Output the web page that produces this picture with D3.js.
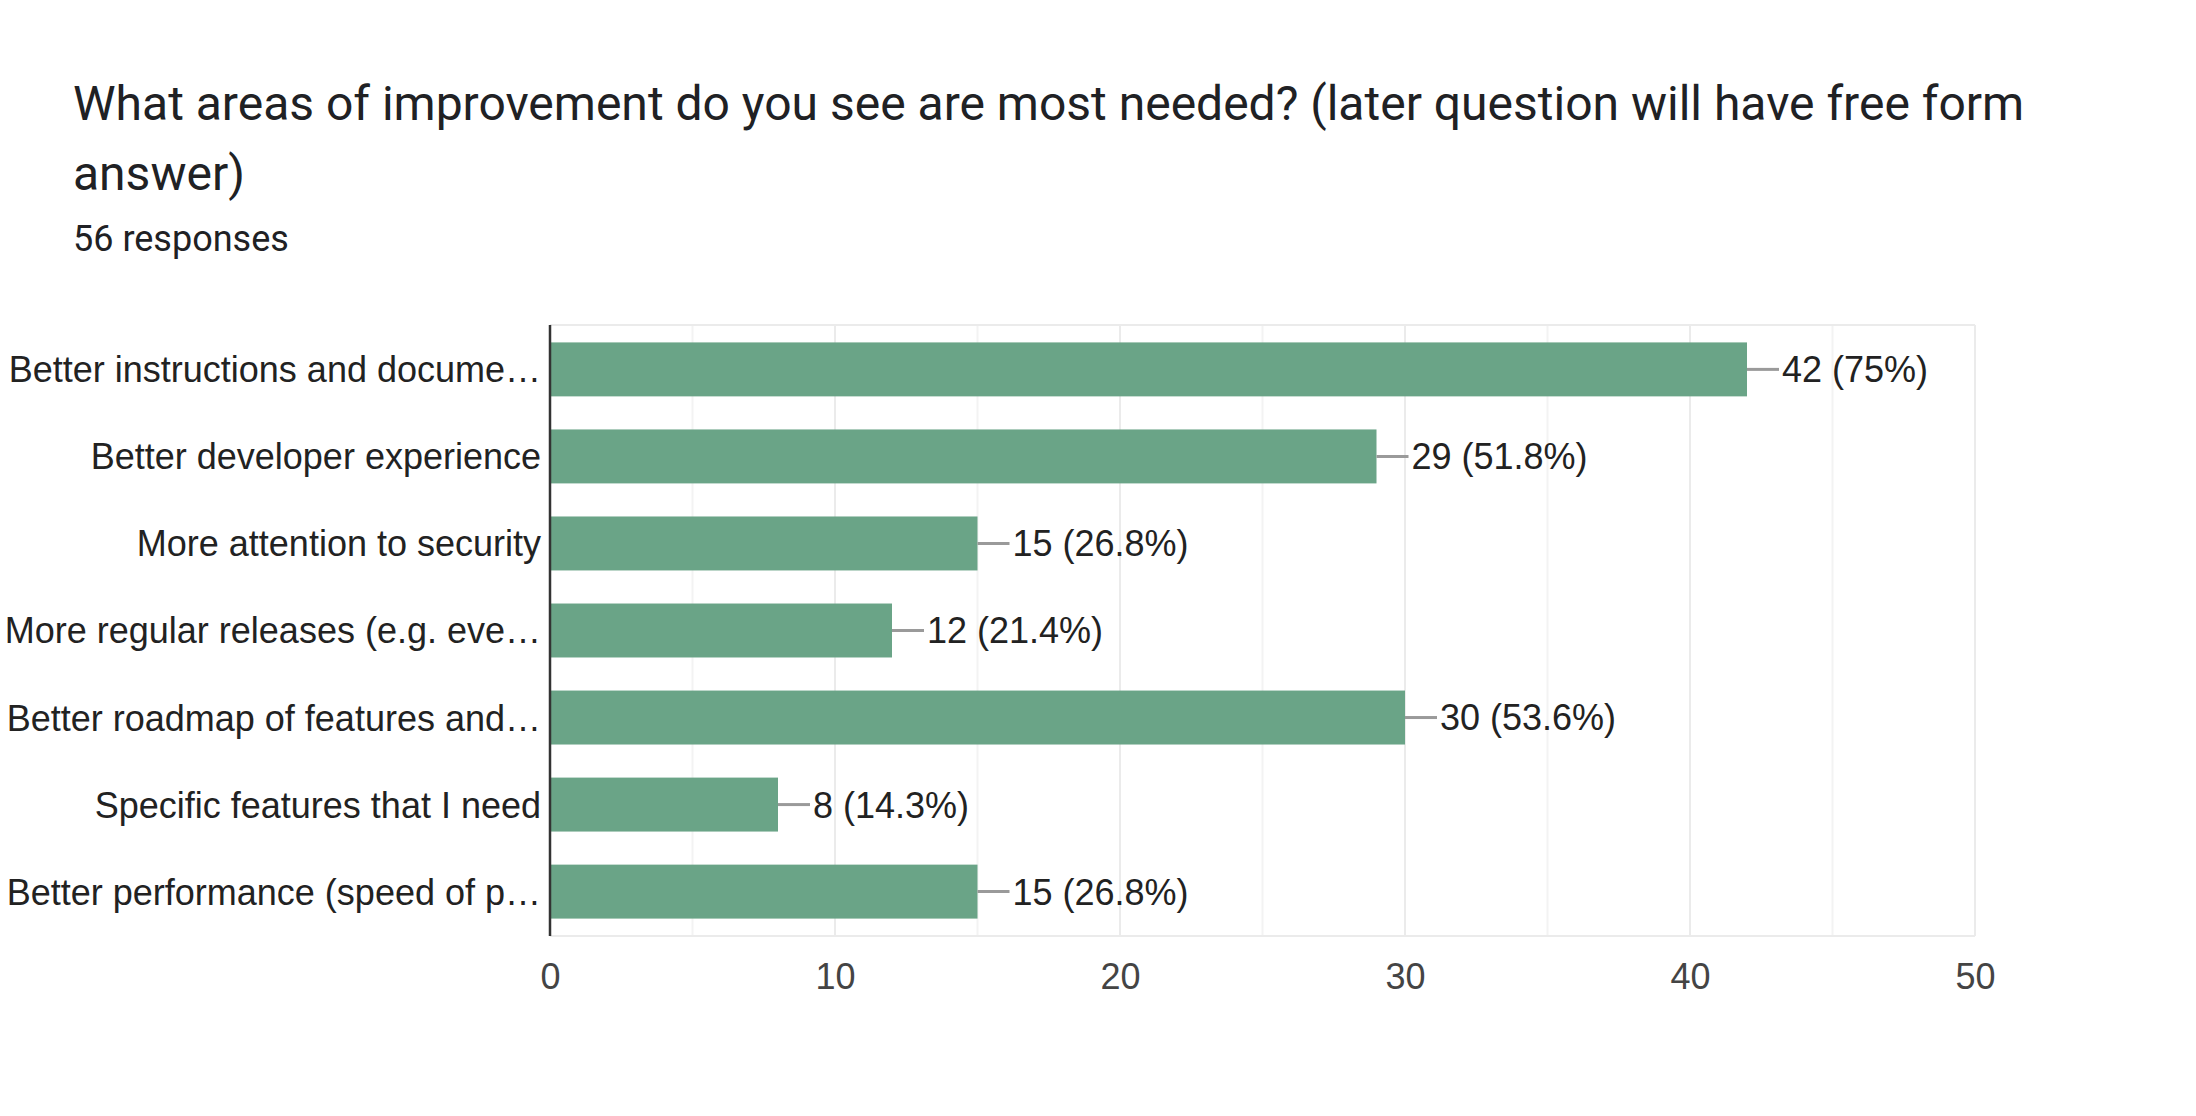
<!DOCTYPE html>
<html>
<head>
<meta charset="utf-8">
<script src="https://cdn.jsdelivr.net/npm/d3@7"></script>
<style>
  body { margin: 0; background: #fff; }
  svg { display: block; }
</style>
</head>
<body>
<svg id="chart" width="2196" height="1116"></svg>
<script>
const titleLines = ['What areas of improvement do you see are most needed? (later question will have free form', 'answer)'];
const subtitle = '56 responses';
const categories = [
    'Better instructions and docume\u2026',
    'Better developer experience',
    'More attention to security',
    'More regular releases (e.g. eve\u2026',
    'Better roadmap of features and\u2026',
    'Specific features that I need',
    'Better performance (speed of p\u2026'
];
const counts = [42, 29, 15, 12, 30, 8, 15];
const percents = ['75%', '51.8%', '26.8%', '21.4%', '53.6%', '14.3%', '26.8%'];
const xTicks = [0, 10, 20, 30, 40, 50];
const xMinorTicks = [5, 15, 25, 35, 45];

const svg = d3.select('#chart');
const plotLeft = 550, plotRight = 1975, plotTop = 325, plotBottom = 936;

// title block
svg.selectAll('text.title')
    .data(titleLines)
    .enter()
    .append('text')
    .attr('class', 'title')
    .attr('x', 73)
    .attr('y', (d, i) => 120 + i * 70)
    .attr('fill', '#202124')
    .style('font-family', 'Roboto')
    .style('font-size', '48px')
    .text(d => d);

svg.append('text')
    .attr('x', 73)
    .attr('y', 251)
    .attr('fill', '#202124')
    .style('font-family', 'Roboto')
    .style('font-size', '36px')
    .text(subtitle);

let xScale = d3.scaleLinear().domain([0, 50]).range([plotLeft, plotRight]);
let yScale = d3.scaleBand().domain(categories).range([plotTop, plotBottom]).paddingInner(0.38).paddingOuter(0.2);

// grid
svg.selectAll('line.minor')
    .data(xMinorTicks)
    .enter()
    .append('line')
    .attr('x1', d => xScale(d)).attr('x2', d => xScale(d))
    .attr('y1', plotTop).attr('y2', plotBottom)
    .attr('stroke', '#f3f3f3')
    .attr('stroke-width', 2);

svg.selectAll('line.major')
    .data(xTicks.slice(1))
    .enter()
    .append('line')
    .attr('x1', d => xScale(d)).attr('x2', d => xScale(d))
    .attr('y1', plotTop).attr('y2', plotBottom)
    .attr('stroke', '#ebebeb')
    .attr('stroke-width', 2);

svg.append('line')
    .attr('x1', plotLeft).attr('x2', plotRight)
    .attr('y1', plotTop).attr('y2', plotTop)
    .attr('stroke', '#ebebeb').attr('stroke-width', 2);
svg.append('line')
    .attr('x1', plotLeft).attr('x2', plotRight)
    .attr('y1', plotBottom).attr('y2', plotBottom)
    .attr('stroke', '#ebebeb').attr('stroke-width', 2);

// bars
svg.selectAll('rect.bar')
    .data(counts)
    .enter()
    .append('rect')
    .attr('class', 'bar')
    .attr('x', xScale(0))
    .attr('y', (d, i) => yScale(categories[i]))
    .attr('width', d => xScale(d) - xScale(0))
    .attr('height', yScale.bandwidth())
    .attr('fill', '#6aa487');

// connectors + value labels
svg.selectAll('line.conn')
    .data(counts)
    .enter()
    .append('line')
    .attr('x1', d => xScale(d))
    .attr('x2', d => xScale(d) + 32)
    .attr('y1', (d, i) => yScale(categories[i]) + yScale.bandwidth() / 2)
    .attr('y2', (d, i) => yScale(categories[i]) + yScale.bandwidth() / 2)
    .attr('stroke', '#9a9a9a')
    .attr('stroke-width', 3);

svg.selectAll('text.val')
    .data(counts)
    .enter()
    .append('text')
    .attr('x', d => xScale(d) + 35)
    .attr('y', (d, i) => yScale(categories[i]) + yScale.bandwidth() / 2)
    .attr('dy', '0.36em')
    .attr('fill', '#222')
    .style('font-family', 'Liberation Sans, Arial')
    .style('font-size', '36px')
    .text((d, i) => d + ' (' + percents[i] + ')');

// axes
let xAxis = d3.axisBottom(xScale).tickValues(xTicks).tickSize(0).tickPadding(27);
svg.append('g')
    .attr('transform', 'translate(0,' + plotBottom + ')')
    .call(xAxis)
    .call(g => g.select('.domain').remove())
    .selectAll('text')
    .attr('fill', '#444')
    .style('font-family', 'Liberation Sans, Arial')
    .style('font-size', '36px');

let yAxis = d3.axisLeft(yScale).tickSize(0).tickPadding(9);
svg.append('g')
    .attr('transform', 'translate(' + plotLeft + ',0)')
    .call(yAxis)
    .call(g => g.select('.domain').remove())
    .selectAll('text')
    .attr('dy', '0.36em')
    .attr('fill', '#222')
    .style('font-family', 'Liberation Sans, Arial')
    .style('font-size', '36px');

svg.append('line')
    .attr('x1', plotLeft).attr('x2', plotLeft)
    .attr('y1', plotTop).attr('y2', plotBottom)
    .attr('stroke', '#333')
    .attr('stroke-width', 2.5);
</script>
</body>
</html>
